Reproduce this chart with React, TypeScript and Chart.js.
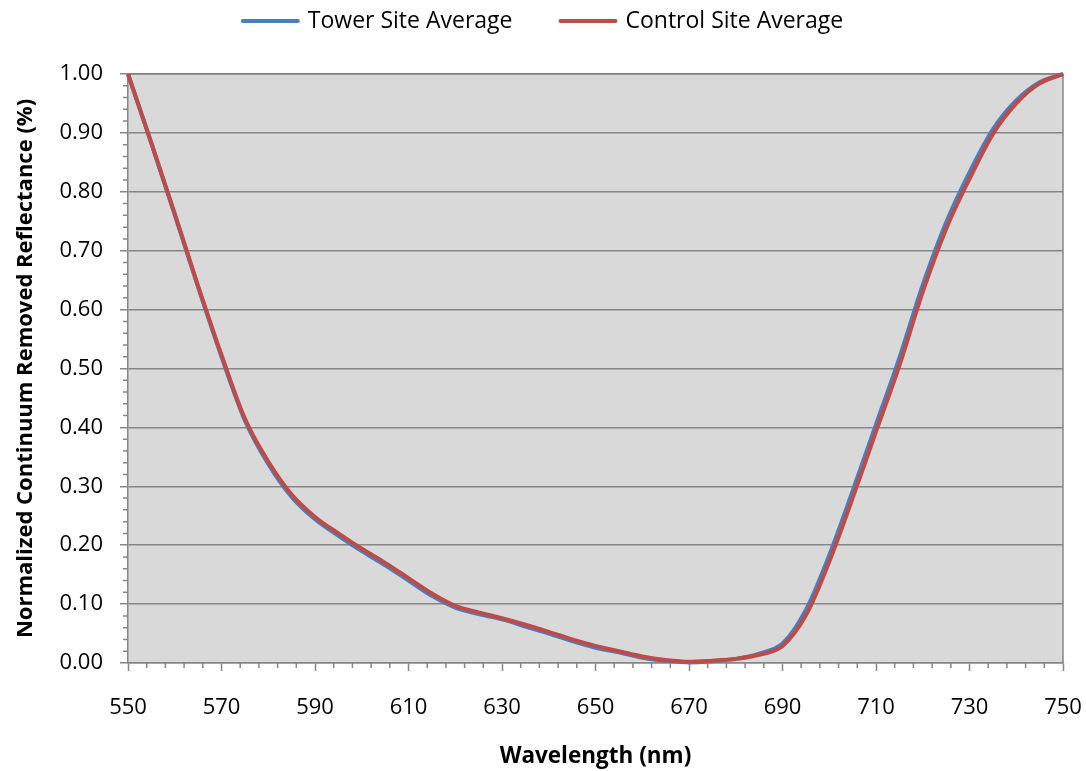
import { useEffect, useRef } from "react";
import { Chart, registerables } from "chart.js";

Chart.register(...registerables);

// Wavelength samples (nm)
const wavelengths = [
  550, 555, 560, 565, 570, 575, 580, 585, 590, 595, 600, 605, 610, 615, 620,
  625, 630, 635, 640, 645, 650, 655, 660, 665, 670, 675, 680, 685, 690, 695,
  700, 705, 710, 715, 720, 725, 730, 735, 740, 745, 750,
];

// Normalized continuum-removed reflectance, tower site average
const towerSite = [
  1.0, 0.882, 0.761, 0.638, 0.52, 0.412, 0.338, 0.282, 0.244, 0.216, 0.19,
  0.166, 0.14, 0.114, 0.094, 0.083, 0.074, 0.062, 0.05, 0.037, 0.026, 0.018,
  0.009, 0.004, 0.001, 0.003, 0.007, 0.016, 0.033, 0.09, 0.183, 0.292, 0.405,
  0.518, 0.642, 0.748, 0.833, 0.906, 0.955, 0.986, 1.0,
];

// Normalized continuum-removed reflectance, control site average
const controlSite = [
  1.0, 0.883, 0.763, 0.64, 0.523, 0.415, 0.342, 0.286, 0.248, 0.22, 0.194,
  0.17, 0.144, 0.118, 0.097, 0.086, 0.076, 0.065, 0.053, 0.04, 0.029, 0.02,
  0.011, 0.005, 0.002, 0.004, 0.007, 0.014, 0.029, 0.081, 0.172, 0.28, 0.393,
  0.505, 0.63, 0.737, 0.822, 0.898, 0.95, 0.984, 1.0,
];

const seriesLabels = ["Tower Site Average", "Control Site Average"];
const seriesColors = ["#4a7ebb", "#be4b48"];

const xMin = 550;
const xMax = 750;
const xMajorStep = 20;
const xMinorStep = 4;
const yMin = 0;
const yMax = 1;
const yMajorStep = 0.1;
const yMinorStep = 0.02;

const FONT = "'Open Sans', 'DejaVu Sans', sans-serif";
const AXIS_GRAY = "#868686";

const plotBackground = {
  id: "plotBackground",
  beforeDraw(chart: any) {
    const { ctx, chartArea } = chart;
    ctx.save();
    ctx.fillStyle = "#d9d9d9";
    ctx.fillRect(
      chartArea.left,
      chartArea.top,
      chartArea.right - chartArea.left,
      chartArea.bottom - chartArea.top
    );
    ctx.restore();
  },
  beforeDatasetsDraw(chart: any) {
    const { ctx, chartArea } = chart;
    ctx.save();
    ctx.strokeStyle = AXIS_GRAY;
    ctx.lineWidth = 1.5;
    ctx.beginPath();
    ctx.moveTo(chartArea.left, chartArea.top);
    ctx.lineTo(chartArea.right, chartArea.top);
    ctx.lineTo(chartArea.right, chartArea.bottom);
    ctx.stroke();
    ctx.restore();
  },
};

const minorTicks = {
  id: "minorTicks",
  afterDraw(chart: any) {
    const { ctx, chartArea, scales } = chart;
    ctx.save();
    ctx.strokeStyle = AXIS_GRAY;
    ctx.lineWidth = 1.5;
    ctx.beginPath();
    const nx = Math.round((xMax - xMin) / xMinorStep);
    for (let i = 0; i <= nx; i++) {
      const v = xMin + i * xMinorStep;
      if (Math.abs(((v - xMin) / xMajorStep) % 1) < 1e-6) continue;
      const px = scales.x.getPixelForValue(v);
      ctx.moveTo(px, chartArea.bottom);
      ctx.lineTo(px, chartArea.bottom + 5);
    }
    const ny = Math.round((yMax - yMin) / yMinorStep);
    for (let i = 0; i <= ny; i++) {
      if (i % Math.round(yMajorStep / yMinorStep) === 0) continue;
      const v = yMin + i * yMinorStep;
      const py = scales.y.getPixelForValue(v);
      ctx.moveTo(chartArea.left - 5, py);
      ctx.lineTo(chartArea.left, py);
    }
    ctx.stroke();
    ctx.restore();
  },
};

const topLegend = {
  id: "topLegend",
  afterDraw(chart: any) {
    const { ctx, width } = chart;
    ctx.save();
    ctx.font = `23px ${FONT}`;
    ctx.textBaseline = "middle";
    const lineLen = 55;
    const gapText = 10;
    const gapItem = 48;
    const widths = seriesLabels.map((t) => ctx.measureText(t).width);
    const total =
      widths.reduce((a, w) => a + lineLen + gapText + w, 0) +
      gapItem * (seriesLabels.length - 1);
    let x = width / 2 - total / 2;
    const y = 21;
    seriesLabels.forEach((label, i) => {
      ctx.strokeStyle = seriesColors[i];
      ctx.lineWidth = 4;
      ctx.lineCap = "round";
      ctx.beginPath();
      ctx.moveTo(x, y);
      ctx.lineTo(x + lineLen, y);
      ctx.stroke();
      x += lineLen + gapText;
      ctx.fillStyle = "#000";
      ctx.fillText(label, x, y);
      x += widths[i] + gapItem;
    });
    ctx.restore();
  },
};

export default function App() {
  const canvasRef = useRef<HTMLCanvasElement | null>(null);

  useEffect(() => {
    const canvas = canvasRef.current;
    if (!canvas) return;
    const toPoints = (vals: number[]) =>
      wavelengths.map((w, i) => ({ x: w, y: vals[i] }));

    const chart = new Chart(canvas, {
      type: "line",
      data: {
        datasets: [
          {
            label: seriesLabels[0],
            data: toPoints(towerSite),
            borderColor: seriesColors[0],
            backgroundColor: seriesColors[0],
            borderWidth: 4,
            pointRadius: 0,
            cubicInterpolationMode: "monotone",
            clip: false as any,
            order: 2,
          },
          {
            label: seriesLabels[1],
            data: toPoints(controlSite),
            borderColor: seriesColors[1],
            backgroundColor: seriesColors[1],
            borderWidth: 4,
            pointRadius: 0,
            cubicInterpolationMode: "monotone",
            clip: false as any,
            order: 1,
          },
        ],
      },
      options: {
        responsive: false,
        animation: false,
        events: [],
        layout: { padding: { top: 74, right: 23, left: 0, bottom: 0 } },
        plugins: {
          legend: { display: false },
          tooltip: { enabled: false },
        },
        scales: {
          x: {
            type: "linear",
            min: xMin,
            max: xMax,
            afterFit: (scale: any) => {
              scale.height = 108;
              scale.paddingLeft = 0;
              scale.paddingRight = 0;
            },
            ticks: {
              stepSize: xMajorStep,
              color: "#000",
              font: { family: FONT, size: 22 },
              padding: 24,
              maxRotation: 0,
            },
            grid: {
              drawOnChartArea: false,
              drawTicks: true,
              tickLength: 8,
              tickColor: AXIS_GRAY,
              tickWidth: 1.5,
            },
            border: { color: AXIS_GRAY, width: 1.5 },
            title: {
              display: true,
              text: "Wavelength (nm)",
              color: "#000",
              font: { family: FONT, size: 22.5, weight: "bold" },
              padding: { top: 0, bottom: 1 },
            },
          },
          y: {
            type: "linear",
            min: yMin,
            max: yMax,
            afterFit: (scale: any) => {
              scale.width = 128;
            },
            ticks: {
              stepSize: yMajorStep,
              color: "#000",
              font: { family: FONT, size: 22 },
              padding: 17,
              callback: (v: any) => Number(v).toFixed(2),
            },
            grid: {
              color: AXIS_GRAY,
              lineWidth: 1.5,
              drawTicks: true,
              tickLength: 8,
              tickColor: AXIS_GRAY,
              tickWidth: 1.5,
            },
            border: { color: AXIS_GRAY, width: 1.5 },
            title: {
              display: true,
              text: "Normalized Continuum Removed Reflectance (%)",
              color: "#000",
              font: { family: FONT, size: 22, weight: "bold" },
              padding: { top: 13, bottom: 0 },
            },
          },
        },
      },
      plugins: [plotBackground, minorTicks, topLegend],
    });

    return () => chart.destroy();
  }, []);

  return (
    <div
      style={{
        position: "absolute",
        left: 0,
        top: 0,
        width: 1086,
        height: 771,
        background: "#fff",
      }}
    >
      <canvas ref={canvasRef} width={1086} height={771} />
    </div>
  );
}
